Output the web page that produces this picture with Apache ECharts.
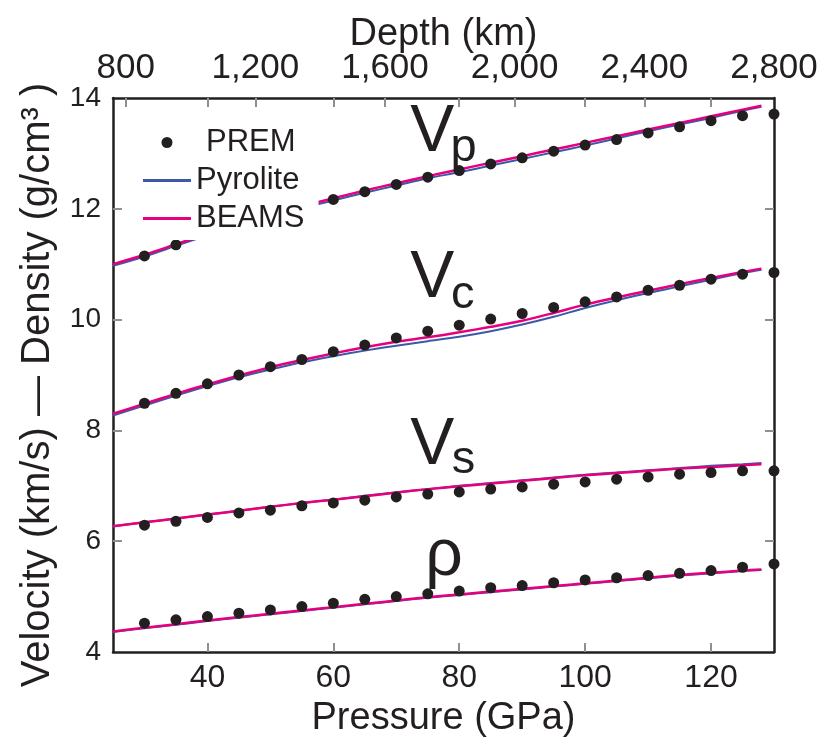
<!DOCTYPE html>
<html>
<head>
<meta charset="utf-8">
<script src="https://cdn.jsdelivr.net/npm/echarts@6/dist/echarts.min.js"></script>
<style>
html,body{margin:0;padding:0;background:#fff;}
#chart{width:828px;height:740px;}
</style>
</head>
<body>
<div id="chart"></div>
<script>
// ---------- data ----------
const premPressure = [30,35,40,45,50,55,60,65,70,75,80,85,90,95,100,105,110,115,120,125,130];
const premVp  = [11.15,11.35,11.55,11.73,11.90,12.04,12.17,12.31,12.44,12.57,12.69,12.81,12.92,13.04,13.15,13.25,13.37,13.48,13.59,13.68,13.71];
const premVc  = [8.49,8.67,8.84,9.00,9.15,9.28,9.42,9.54,9.67,9.79,9.90,10.01,10.11,10.22,10.32,10.41,10.53,10.62,10.73,10.82,10.85];
const premVs  = [6.29,6.36,6.43,6.51,6.56,6.64,6.69,6.74,6.80,6.85,6.89,6.94,6.98,7.03,7.07,7.12,7.16,7.21,7.24,7.27,7.27];
const premRho = [4.52,4.58,4.64,4.70,4.76,4.82,4.88,4.95,5.00,5.05,5.10,5.16,5.20,5.25,5.30,5.34,5.38,5.42,5.47,5.53,5.59];

const modelPressure = [25,30,35,40,45,50,55,60,65,70,75,80,85,90,95,100,105,110,115,120,125,128];
const beamsVp  = [11.00,11.17,11.36,11.55,11.73,11.89,12.05,12.19,12.33,12.46,12.59,12.71,12.83,12.95,13.07,13.19,13.31,13.43,13.55,13.67,13.79,13.86];
const pyroVp   = [10.97,11.14,11.33,11.52,11.70,11.86,12.01,12.15,12.29,12.42,12.55,12.66,12.78,12.90,13.02,13.14,13.27,13.40,13.52,13.64,13.77,13.84];
const beamsVc  = [8.30,8.48,8.66,8.83,8.99,9.14,9.27,9.39,9.50,9.60,9.68,9.77,9.87,9.98,10.12,10.27,10.40,10.52,10.64,10.75,10.86,10.92];
const pyroVc   = [8.27,8.45,8.63,8.80,8.96,9.10,9.23,9.34,9.44,9.53,9.61,9.69,9.79,9.91,10.05,10.21,10.35,10.48,10.60,10.72,10.84,10.90];
const beamsVs  = [6.27,6.34,6.41,6.48,6.55,6.62,6.69,6.75,6.81,6.88,6.94,6.99,7.04,7.09,7.14,7.19,7.23,7.27,7.31,7.34,7.37,7.39];
const pyroVs   = [6.27,6.34,6.41,6.48,6.55,6.62,6.69,6.75,6.82,6.88,6.94,7.00,7.05,7.10,7.15,7.20,7.24,7.28,7.32,7.36,7.39,7.41];
const beamsRho = [4.37,4.44,4.50,4.57,4.63,4.69,4.75,4.81,4.87,4.93,4.99,5.04,5.09,5.14,5.19,5.24,5.29,5.34,5.39,5.43,5.47,5.49];
const pyroRho  = [4.36,4.43,4.49,4.56,4.62,4.68,4.74,4.80,4.86,4.92,4.98,5.03,5.08,5.13,5.18,5.23,5.28,5.33,5.38,5.42,5.46,5.48];

const pressureTicks = [40,60,80,100,120];
const depthTicks = [800,1200,1600,2000,2400,2800];
const yTicks = [4,6,8,10,12,14];

// curve annotations: [pressure, value, text, kind]
const curveLabels = [
  [72.2, 13.38, 'V', 'big'], [78.6, 13.09, 'p', 'sub'],
  [72.2, 10.73, 'V', 'big'], [78.7, 10.45, 'c', 'sub'],
  [72.2, 7.73,  'V', 'big'], [78.8, 7.46,  's', 'sub'],
  [74.6, 5.71,  'ρ', 'big']
];

// ---------- chart ----------
const FONT = 'Liberation Sans, Arial, Helvetica, sans-serif';
const INK = '#231f20';
const TICK = '#8f8f8f';
const BLUE = '#3a5aa8';
const PINK = '#e6007e';

const zip = (xs, ys) => xs.map((x, i) => [x, ys[i]]);

const chart = echarts.init(document.getElementById('chart'), null, {renderer: 'canvas'});

function lineSeries(name, ys, color, width, z) {
  return {
    name, type: 'line', xAxisIndex: 0, yAxisIndex: 0,
    data: zip(modelPressure, ys), showSymbol: false, symbol: 'none', smooth: 0.3,
    lineStyle: {color, width}, itemStyle: {color}, z, silent: true
  };
}
function premSeries(ys) {
  return {
    name: 'PREM', type: 'scatter', xAxisIndex: 0, yAxisIndex: 0,
    data: zip(premPressure, ys), symbol: 'circle', symbolSize: 11,
    itemStyle: {color: INK, opacity: 1}, z: 3, silent: true
  };
}

const series = [
  lineSeries('Pyrolite', pyroVp, BLUE, 2, 2),
  lineSeries('Pyrolite', pyroVc, BLUE, 2, 2),
  lineSeries('Pyrolite', pyroVs, BLUE, 2, 2),
  lineSeries('Pyrolite', pyroRho, BLUE, 2, 2),
  lineSeries('BEAMS', beamsVp, PINK, 2.5, 2),
  lineSeries('BEAMS', beamsVc, PINK, 2.5, 2),
  lineSeries('BEAMS', beamsVs, PINK, 2.5, 2),
  lineSeries('BEAMS', beamsRho, PINK, 2.5, 2),
  premSeries(premVp), premSeries(premVc), premSeries(premVs), premSeries(premRho),
  {
    name: 'labels', type: 'scatter', xAxisIndex: 0, yAxisIndex: 0,
    symbolSize: 0, silent: true, z: 3,
    itemStyle: {opacity: 1},
    data: curveLabels.map(d => ({
      value: [d[0], d[1]],
      label: {
        show: true, formatter: d[2], position: [0, 0], align: 'left', verticalAlign: 'middle',
        fontSize: d[3] === 'big' ? 66 : 47, color: INK, fontFamily: FONT, opacity: 1
      }
    }))
  }
];

const tickStyle = {show: true, inside: true, length: 9, lineStyle: {color: TICK, width: 2}};
const axisLineStyle = {show: true, onZero: false, lineStyle: {color: INK, width: 2.5}};
const LINE_ICON = 'path://M0,0H48V3H0Z';

const option = {
  animation: false,
  backgroundColor: '#fff',
  grid: {left: 113, right: 54, top: 98, bottom: 88, containLabel: false, outerBoundsMode: 'none'},
  legend: {
    orient: 'vertical', left: 138, top: 117,
    padding: [10, 14, 6, 5],
    backgroundColor: '#fff',
    z: 20,
    itemWidth: 48, itemHeight: 11, itemGap: 7,
    textStyle: {fontSize: 31, fontFamily: FONT, color: INK, lineHeight: 31},
    data: [
      {name: 'PREM', icon: 'circle', textStyle: {padding: [0, 0, 0, 10]}},
      {name: 'Pyrolite', icon: LINE_ICON},
      {name: 'BEAMS', icon: LINE_ICON}
    ],
    selectedMode: false
  },
  xAxis: [
    {
      type: 'value', position: 'bottom', min: 25, max: 130,
      name: 'Pressure (GPa)', nameLocation: 'middle', nameGap: 48, nameMoveOverlap: false,
      nameTextStyle: {fontSize: 38, fontFamily: FONT, color: INK},
      axisLine: axisLineStyle,
      axisTick: Object.assign({customValues: pressureTicks}, tickStyle),
      axisLabel: {customValues: pressureTicks, fontSize: 32, fontFamily: FONT, color: INK, margin: 10},
      splitLine: {show: false}
    },
    {
      type: 'value', position: 'top', min: 761, max: 2800,
      name: 'Depth (km)', nameLocation: 'middle', nameGap: 44, nameMoveOverlap: false,
      nameTextStyle: {fontSize: 38, fontFamily: FONT, color: INK},
      axisLine: axisLineStyle,
      axisTick: Object.assign({customValues: depthTicks.slice(0, 5)}, tickStyle),
      axisLabel: {
        customValues: depthTicks, fontSize: 35, fontFamily: FONT, color: INK, margin: 12,
        formatter: v => v.toLocaleString('en-US')
      },
      splitLine: {show: false}
    },
    {
      type: 'value', position: 'top', min: 25, max: 130,
      axisLine: {show: false},
      axisTick: Object.assign({customValues: pressureTicks}, tickStyle),
      axisLabel: {show: false},
      splitLine: {show: false}
    }
  ],
  yAxis: [
    {
      type: 'value', position: 'left', min: 4, max: 14, interval: 2,
      name: 'Velocity (km/s) — Density (g/cm³ )\u2002', nameLocation: 'middle', nameGap: 55, nameMoveOverlap: false,
      nameTextStyle: {fontSize: 40, fontFamily: FONT, color: INK},
      axisLine: axisLineStyle,
      axisTick: Object.assign({customValues: [6, 8, 10, 12]}, tickStyle),
      axisLabel: {customValues: yTicks, fontSize: 28, fontFamily: FONT, color: INK, margin: 12},
      splitLine: {show: false}
    },
    {
      type: 'value', position: 'right', min: 4, max: 14, interval: 2,
      axisLine: axisLineStyle,
      axisTick: Object.assign({customValues: [6, 8, 10, 12]}, tickStyle),
      axisLabel: {show: false},
      splitLine: {show: false}
    }
  ],
  series
};
chart.setOption(option);
</script>
</body>
</html>
